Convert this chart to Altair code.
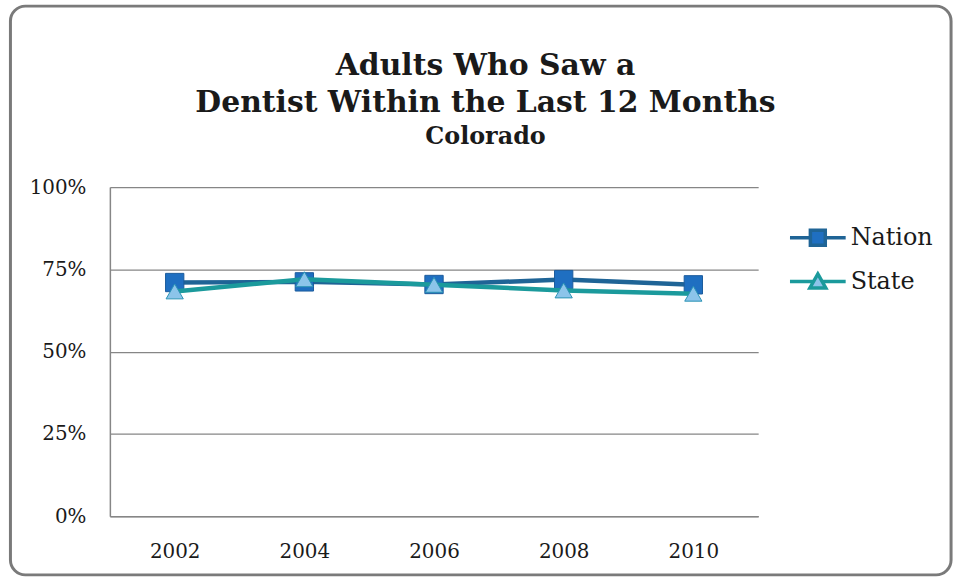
import altair as alt
import pandas as pd

years = ["2002", "2004", "2006", "2008", "2010"]
nation = [71.0, 71.2, 70.4, 71.9, 70.3]
state = [68.3, 72.0, 70.3, 68.6, 67.6]
series_names = ["Nation", "State"]
y_ticks = [0, 25, 50, 75, 100]

title_lines = ["Adults Who Saw a", "Dentist Within the Last 12 Months"]
subtitle = "Colorado"

line_colors = ["#1F6496", "#1B9A9C"]
marker_fills = ["#1F6FC1", "#8CC4EA"]
marker_strokes = ["#1C5C9C", "#2A93B4"]

FONT = "DejaVu Serif"
TEXT = "#1a1a1a"
GRID = "#868686"

rows = []
for yr, n, s in zip(years, nation, state):
    rows.append({"year": yr, "series": "Nation", "value": n})
    rows.append({"year": yr, "series": "State", "value": s})
df = pd.DataFrame(rows)

x_enc = alt.X(
    "year:O",
    sort=years,
    scale=alt.Scale(type="point", padding=0.5),
    axis=alt.Axis(
        title=None, labelFont=FONT, labelFontSize=20, labelColor=TEXT,
        labelAngle=0, ticks=False, domainColor=GRID, domainWidth=1.5,
        labelPadding=26, grid=False,
    ),
)
y_enc = alt.Y(
    "value:Q",
    scale=alt.Scale(domain=[0, 100], nice=False),
    axis=alt.Axis(
        title=None, values=y_ticks, labelExpr="datum.value + '%'",
        labelFont=FONT, labelFontSize=20, labelColor=TEXT, ticks=False,
        domainColor=GRID, domainWidth=1.5, gridColor=GRID, gridWidth=1.3,
        labelPadding=24,
    ),
)

frame = alt.Chart(pd.DataFrame({"a": [0]})).mark_rect(
    fill="transparent", stroke="#7a7a7a", strokeWidth=3, cornerRadius=15
).encode(x=alt.value(-100), x2=alt.value(846), y=alt.value(-182), y2=alt.value(390))

layers = [frame]
for name, lc, mf, ms, shape, size in zip(
    series_names, line_colors, marker_fills, marker_strokes,
    ["square", "triangle-up"], [340, 300]
):
    base = alt.Chart(df).transform_filter(alt.datum.series == name)
    layers.append(base.mark_line(color=lc, strokeWidth=4.5).encode(x=x_enc, y=y_enc))
    layers.append(
        base.mark_point(shape=shape, filled=True, fill=mf, stroke=ms,
                        strokeWidth=1, size=size, opacity=1).encode(x=x_enc, y=y_enc)
    )

sq_path = "M-1.4,0L-0.375,0M0.375,0L1.4,0M-0.375,-0.375H0.375V0.375H-0.375Z"
tri_path = "M-1.4,0L-0.2,0M0.2,0L1.4,0M0,-0.38L0.4,0.32H-0.4Z"

leg = alt.Legend(
    title=None, orient="right", offset=9, padding=29, symbolSize=1600,
    symbolStrokeWidth=3.5, symbolOpacity=1, labelFont=FONT, labelFontSize=24,
    labelColor=TEXT, labelOffset=11, rowPadding=7,
)
legend_layer = alt.Chart(df).mark_point(filled=True, opacity=0).encode(
    x=x_enc,
    y=y_enc,
    shape=alt.Shape("series:N", scale=alt.Scale(domain=series_names, range=[sq_path, tri_path]), legend=leg),
    fill=alt.Fill("series:N", scale=alt.Scale(domain=series_names, range=marker_fills), legend=leg),
    stroke=alt.Stroke("series:N", scale=alt.Scale(domain=series_names, range=line_colors), legend=leg),
)
layers.append(legend_layer)

chart = alt.layer(*layers).properties(
    width=652,
    height=331,
    padding={"left": 8.5, "top": 2.5, "right": 0, "bottom": 0},
    background="white",
    title=alt.TitleParams(
        text=title_lines, subtitle=subtitle, font=FONT, fontSize=30,
        fontWeight="bold", color=TEXT, lineHeight=37, subtitleFont=FONT,
        subtitleFontSize=24, subtitleFontWeight="bold", subtitleColor=TEXT,
        subtitlePadding=7, anchor="middle", frame="bounds", offset=-145,
    ),
).configure_view(strokeWidth=0)

chart.save("out.html", embed_options={"renderer": "svg", "actions": False})
